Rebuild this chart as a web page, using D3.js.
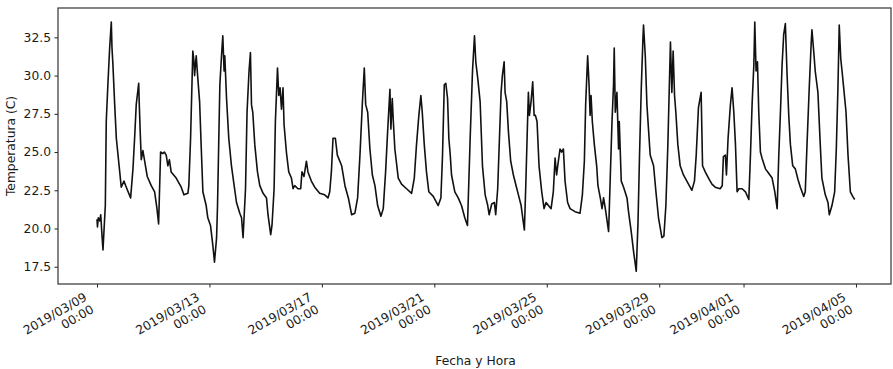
<!DOCTYPE html>
<html>
<head>
<meta charset="utf-8">
<script src="https://cdn.jsdelivr.net/npm/d3@7"></script>
<style>
  body { margin: 0; background: #fff; }
  svg text { font-family: "DejaVu Sans", sans-serif; fill: #1a1a1a; }
</style>
</head>
<body>
<script>
// readings: [hours since 2019/03/09 00:00, temperature C]
var mar09to13 = [
  [0, 20.6], [0.4, 20.1], [1.1, 20.7], [2.3, 20.5], [3.2, 20.9], [4.3, 19.5], [5.1, 18.6],
  [7.1, 21.5], [7.9, 27.0], [9.4, 29.6], [10.8, 31.8], [12.2, 33.5], [12.8, 31.8], [13.6, 30.7],
  [15.1, 28.1], [16.5, 25.9], [19.4, 23.7], [20.7, 22.7], [23.0, 23.1], [25.0, 22.7], [28.7, 22.0],
  [30.7, 23.9], [32.1, 25.9], [33.5, 28.1], [35.6, 29.5], [36.1, 28.1], [36.9, 26.3], [37.8, 24.5],
  [39.2, 25.1], [40.7, 24.4], [42.9, 23.4], [46.3, 22.8], [49.2, 22.4], [51.2, 21.3], [52.6, 20.3],
  [54.3, 25.0], [56.3, 24.9], [57.5, 25.0], [59.1, 24.8], [60.5, 24.1], [61.8, 24.5], [63.3, 23.7],
  [67.6, 23.3], [71.9, 22.7], [74.2, 22.2], [77.6, 22.3], [78.4, 22.8], [79.9, 25.9], [81.8, 31.6],
  [82.7, 31.0], [83.3, 30.0], [84.7, 31.3], [86.1, 29.8], [87.6, 28.3], [88.9, 25.5], [90.4, 22.4],
  [93.2, 21.5], [94.6, 20.7], [96.9, 20.2]
];
var mar13to17 = [
  [98.9, 18.9], [100.3, 17.8], [102.1, 19.4], [102.9, 21.5], [104.0, 25.9], [104.9, 29.4],
  [106.3, 31.3], [107.4, 32.6], [108.5, 30.3], [109.1, 31.3], [110.6, 28.5], [112.5, 25.9],
  [114.8, 24.1], [117.1, 22.8], [119.1, 21.7], [121.9, 21.0], [123.4, 20.7], [124.7, 19.4],
  [126.8, 22.6], [128.1, 27.6], [129.8, 30.3], [131.0, 31.5], [131.9, 28.1], [133.0, 27.6],
  [134.7, 25.5], [137.0, 23.7], [139.0, 22.8], [141.8, 22.3], [144.7, 22.0], [146.0, 20.9],
  [148.3, 19.6], [149.4, 20.2], [151.2, 22.6], [152.3, 27.0], [154.1, 30.5], [155.2, 28.7],
  [156.3, 29.2], [157.5, 27.8], [158.8, 29.2], [159.7, 26.8], [161.7, 25.0], [163.7, 23.7],
  [166.0, 23.3], [167.4, 22.6], [168.8, 22.8], [171.6, 22.6], [173.9, 22.6], [175.0, 23.7],
  [176.7, 23.4], [178.8, 24.4], [180.1, 23.7], [183.0, 23.1], [185.9, 22.7], [190.1, 22.3]
];
var mar17to21 = [
  [194.4, 22.2], [197.2, 22.0], [198.7, 22.4], [200.1, 23.7], [201.5, 25.9], [203.5, 25.9],
  [205.2, 24.8], [208.9, 24.1], [211.7, 22.8], [214.6, 22.0], [217.4, 20.9], [220.2, 21.0],
  [222.5, 22.0], [224.5, 24.8], [226.5, 28.1], [228.2, 30.5], [229.4, 28.1], [231.1, 27.6],
  [233.0, 25.2], [235.1, 23.5], [237.3, 22.8], [239.6, 21.5], [242.4, 20.8], [244.4, 21.3],
  [246.4, 23.7], [248.1, 26.3], [250.1, 29.1], [250.9, 26.5], [252.1, 28.5], [253.0, 27.0],
  [254.3, 25.2], [257.2, 23.3], [260.0, 22.9], [264.3, 22.6], [268.6, 22.3], [270.9, 23.3],
  [272.8, 25.5], [274.8, 27.4], [276.5, 28.7], [277.7, 27.6], [279.4, 25.5], [281.3, 23.7],
  [283.3, 22.4], [287.1, 22.1]
];
var mar21to25 = [
  [291.3, 21.5], [293.6, 22.0], [295.0, 24.8], [296.5, 29.4], [297.8, 29.5], [299.3, 28.5],
  [300.4, 25.9], [301.6, 24.8], [302.7, 23.5], [305.5, 22.4], [308.4, 22.0], [311.2, 21.5],
  [314.0, 20.7], [316.3, 20.2], [318.6, 25.9], [320.6, 30.3], [322.3, 32.6], [323.4, 30.9],
  [325.1, 29.8], [327.1, 28.3], [329.1, 24.1], [331.4, 22.2], [333.6, 21.5], [334.8, 20.9],
  [337.0, 21.6], [339.3, 21.7], [340.4, 20.9], [342.1, 22.6], [343.6, 25.9], [345.0, 28.9],
  [346.1, 30.0], [347.6, 30.9], [348.4, 28.9], [349.8, 28.3], [351.3, 26.3], [353.2, 24.4],
  [355.5, 23.5], [357.8, 22.8], [359.8, 22.2], [362.1, 21.5], [364.0, 20.4], [364.9, 19.9],
  [366.0, 22.6], [367.2, 25.9], [368.3, 28.9], [369.2, 27.4], [370.6, 28.3], [372.0, 29.6],
  [373.2, 27.4], [374.3, 27.4], [375.7, 27.0], [377.4, 24.1], [379.7, 22.4], [381.7, 21.3]
];
var mar25to29 = [
  [383.4, 21.7], [385.4, 21.5], [387.7, 21.3], [389.6, 22.4], [391.1, 24.6], [392.4, 23.5],
  [393.9, 24.4], [395.3, 25.2], [396.7, 25.0], [398.2, 25.2], [399.6, 23.1], [401.8, 21.7],
  [403.9, 21.3], [408.1, 21.1], [412.4, 21.0], [414.4, 22.2], [416.1, 24.4], [417.2, 28.1],
  [418.9, 31.3], [420.1, 29.4], [421.0, 27.4], [421.8, 28.7], [422.9, 27.0], [424.6, 25.5],
  [426.6, 24.1], [427.7, 22.8], [429.7, 22.0], [431.2, 21.3], [432.5, 22.0], [434.0, 21.3],
  [436.8, 19.8], [438.2, 23.3], [439.7, 27.0], [441.0, 29.4], [441.6, 31.8], [442.5, 27.6],
  [443.9, 28.9], [445.3, 25.2], [445.9, 27.0], [447.6, 23.1], [449.6, 22.7], [452.5, 22.0],
  [453.8, 21.1], [456.1, 19.8], [458.1, 18.5], [460.4, 17.2], [461.9, 20.4], [463.2, 24.8],
  [464.7, 29.2], [466.1, 32.4], [466.6, 33.3], [468.1, 31.3], [469.5, 28.1], [472.3, 24.8],
  [475.2, 24.1], [477.2, 22.4]
];
var mar29toApr05 = [
  [479.4, 20.7], [482.3, 19.4], [484.0, 19.5], [485.7, 21.5], [487.4, 25.5], [488.5, 28.9],
  [489.6, 32.2], [490.8, 28.9], [491.9, 31.6], [493.1, 28.7], [494.2, 27.6], [495.9, 25.5],
  [497.9, 24.1], [500.7, 23.5], [503.6, 23.1], [507.9, 22.5], [510.1, 23.1], [511.6, 24.8],
  [513.5, 27.9], [515.8, 28.9], [517.0, 24.1], [519.3, 23.7], [522.1, 23.3], [525.0, 22.9],
  [527.8, 22.7], [532.0, 22.6], [533.8, 22.8], [534.8, 24.7], [536.5, 24.8], [537.4, 23.5],
  [538.8, 25.9], [540.8, 28.1], [542.2, 29.2], [543.7, 27.6], [545.1, 25.5], [546.5, 22.4],
  [548.0, 22.6], [550.8, 22.6], [553.6, 22.4], [556.5, 21.9], [557.9, 24.8], [559.3, 28.1],
  [560.8, 30.7], [561.6, 33.5], [562.7, 30.3], [563.9, 30.9], [565.0, 27.6], [566.4, 25.0],
  [567.8, 24.6], [570.7, 23.9], [573.6, 23.6], [576.4, 23.3], [578.7, 22.4], [580.7, 21.3],
  [582.1, 24.8], [583.5, 27.6], [584.9, 30.7], [586.3, 32.7], [587.7, 33.4], [589.2, 30.0],
  [590.6, 27.4], [592.0, 25.5], [594.0, 24.1], [596.2, 23.9], [598.5, 23.2], [600.5, 22.7],
  [603.4, 22.1], [604.7, 22.4], [606.2, 25.5], [608.1, 29.2], [609.8, 32.2], [610.4, 33.0],
  [611.9, 31.6], [613.2, 30.3], [615.5, 28.9], [617.5, 25.5], [618.9, 23.3], [621.8, 22.2],
  [624.1, 21.7], [625.2, 20.9], [627.5, 21.5], [629.8, 22.4], [631.2, 25.2], [632.6, 29.2],
  [633.7, 33.3], [635.0, 31.1], [636.1, 30.3], [637.5, 29.2], [639.5, 27.6], [641.2, 24.8],
  [643.2, 22.4], [645.2, 22.1], [646.9, 21.9]
];

var tickDays = ["2019-03-09", "2019-03-13", "2019-03-17", "2019-03-21", "2019-03-25",
                "2019-03-29", "2019-04-01", "2019-04-05"];
var yTicks = [17.5, 20.0, 22.5, 25.0, 27.5, 30.0, 32.5];

var W = 893, H = 369;
var plotLeft = 58, plotRight = 891, plotTop = 8, plotBottom = 284;

var start = new Date(2019, 2, 9, 0, 0);
var parseDay = d3.timeParse("%Y-%m-%d");
var hourToDate = function (h) { return new Date(start.getTime() + h * 3600e3); };

var readings = [].concat(mar09to13, mar13to17, mar17to21, mar21to25, mar25to29, mar29toApr05);

// matplotlib style margins around the data
var x = d3.scaleTime()
    .domain([hourToDate(-33.3), hourToDate(648 + 29.9)])
    .range([plotLeft, plotRight]);
var y = d3.scaleLinear()
    .domain([16.37, 34.42])
    .range([plotBottom, plotTop]);

var svg = d3.select("body").append("svg")
    .attr("width", W)
    .attr("height", H);

// the temperature line
var line = d3.line()
    .x(function (d) { return x(hourToDate(d[0])); })
    .y(function (d) { return y(d[1]); });

svg.append("path")
    .datum(readings)
    .attr("d", line)
    .attr("fill", "none")
    .attr("stroke", "#111")
    .attr("stroke-width", 1.6)
    .attr("stroke-linejoin", "round");

// y axis
var yAxis = svg.append("g")
    .attr("transform", "translate(" + plotLeft + ",0)")
    .call(d3.axisLeft(y).tickValues(yTicks).tickFormat(d3.format(".1f")).tickSize(3.5).tickPadding(3.5));
yAxis.select(".domain").remove();
yAxis.selectAll("line").attr("stroke", "#222");
yAxis.selectAll("text").attr("font-size", 12.3).attr("font-family", "'DejaVu Sans', sans-serif").attr("fill", "#1a1a1a");

// x axis ticks only, labels drawn below
var tickDates = tickDays.map(parseDay);
var xAxis = svg.append("g")
    .attr("transform", "translate(0," + plotBottom + ")")
    .call(d3.axisBottom(x).tickValues(tickDates).tickFormat("").tickSize(3.5));
xAxis.select(".domain").remove();
xAxis.selectAll("line").attr("stroke", "#222");

var fmtDay = d3.timeFormat("%Y/%m/%d");
var fmtHour = d3.timeFormat("%H:%M");
var lineH = 14;
var shift = 2 * lineH * Math.sin(Math.PI / 6);

var lbl = svg.append("g").selectAll("g")
    .data(tickDates)
    .enter()
    .append("g")
    .attr("transform", function (d) {
        return "translate(" + (x(d) - shift - 1) + "," + (plotBottom + 5.5) + ") rotate(-30)";
    });
var t = lbl.append("text")
    .attr("text-anchor", "end")
    .attr("font-size", 12.3);
t.append("tspan").attr("x", 0).attr("dy", "0.95em").text(function (d) { return fmtDay(d); });
t.append("tspan").attr("x", 0).attr("dy", lineH).text(function (d) { return fmtHour(d); });

// frame
svg.append("rect")
    .attr("x", plotLeft)
    .attr("y", plotTop)
    .attr("width", plotRight - plotLeft)
    .attr("height", plotBottom - plotTop)
    .attr("fill", "none")
    .attr("stroke", "#333")
    .attr("stroke-width", 1.2);

// axis titles
svg.append("text")
    .attr("x", (plotLeft + plotRight) / 2 + 1)
    .attr("y", 365)
    .attr("text-anchor", "middle")
    .attr("font-size", 12.3)
    .text("Fecha y Hora");

svg.append("text")
    .attr("text-anchor", "middle")
    .attr("transform", "translate(15," + ((plotTop + plotBottom) / 2) + ") rotate(-90)")
    .attr("font-size", 12.3)
    .text("Temperatura (C)");
</script>
</body>
</html>
